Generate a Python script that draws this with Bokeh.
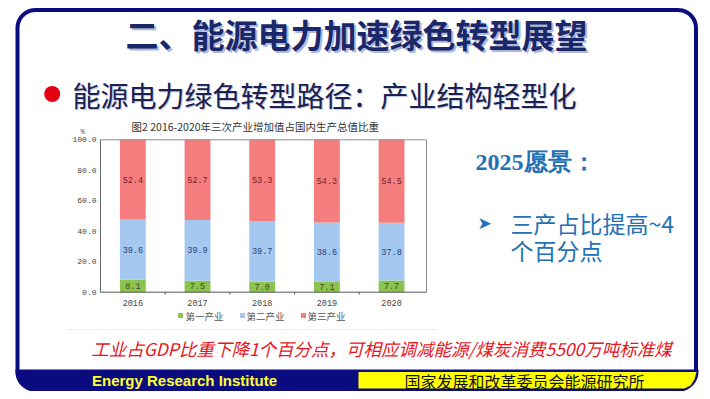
import numpy as np
from bokeh.plotting import figure
from bokeh.models import Range1d, ColumnDataSource, Label
from bokeh.core.properties import value
from bokeh.embed import file_html
from bokeh.resources import INLINE

# ---------------- data ----------------
years = ["2016", "2017", "2018", "2019", "2020"]
primary = [8.1, 7.5, 7.0, 7.1, 7.7]        # 第一产业
secondary = [39.6, 39.9, 39.7, 38.6, 37.8]  # 第二产业
tertiary = [52.4, 52.7, 53.3, 54.3, 54.5]   # 第三产业
series_names = ["第一产业", "第二产业", "第三产业"]
y_ticks = [0, 20, 40, 60, 80, 100]
y_tick_labels = ["0.0", "20.0", "40.0", "60.0", "80.0", "100.0"]

# ---------------- styles ----------------
bar_colors = ["#8cc34f", "#a4c8f0", "#f57d7d"]
bar_label_colors = ["#3d4a1c", "#2b3f78", "#6b2226"]
NAVY = "#0b0b80"
TITLE_C = "#1a2768"
BLUE_T = "#2271b6"
CJK = "Noto Sans CJK SC"
MONO = "Liberation Mono"

# figure covers image px 0..702 x 0..391
FX0, FX1, FY0, FY1 = 0, 702, 0, 391
p = figure(width=FX1 - FX0, height=FY1 - FY0, x_range=Range1d(FX0, FX1), y_range=Range1d(FY1, FY0),
           output_backend="svg", toolbar_location=None,
           x_axis_location=None, y_axis_location=None, min_border=0)
p.grid.visible = False
p.outline_line_color = None
p.background_fill_color = "white"
p.border_fill_color = "white"

# chart sub-area: map chart data into a pixel box through extra ranges
CH_L, CH_R, CH_T, CH_B = 100, 426, 139.3, 291.7
X_LO, X_HI, Y_LO, Y_HI = -0.5, 4.54, 0.0, 100.0
kx = (X_HI - X_LO) / (CH_R - CH_L)
ky = (Y_HI - Y_LO) / (CH_B - CH_T)
p.extra_x_ranges = {"cx": Range1d(X_LO - (CH_L - FX0) * kx, X_HI + (FX1 - CH_R) * kx)}
p.extra_y_ranges = {"cy": Range1d(Y_LO - (FY1 - CH_B) * ky, Y_HI + (CH_T - FY0) * ky)}
C = dict(x_range_name="cx", y_range_name="cy")


def rounded(x0, y0, x1, y1, r, n=14):
    xs, ys = [], []
    for cx, cy, a0, a1 in [(x0 + r, y0 + r, np.pi, 1.5 * np.pi),
                           (x1 - r, y0 + r, 1.5 * np.pi, 2 * np.pi),
                           (x1 - r, y1 - r, 0, 0.5 * np.pi),
                           (x0 + r, y1 - r, 0.5 * np.pi, np.pi)]:
        t = np.linspace(a0, a1, n)
        xs += list(cx + r * np.cos(t))
        ys += list(cy + r * np.sin(t))
    return xs, ys


# slide frame
fx, fy = rounded(17, 9.5, 695.5, 389, 18)
p.patch(fx, fy, fill_color="white", line_color=NAVY, line_width=4)

# bottom bar (navy)
t1 = np.linspace(np.pi, 0.5 * np.pi, 12)
t2 = np.linspace(0.5 * np.pi, 0.0, 12)
bx = [15] + list(35 + 20 * np.cos(t1)) + list(678 + 20 * np.cos(t2)) + [698]
by = [369] + list(371 + 20 * np.sin(t1)) + list(371 + 20 * np.sin(t2)) + [369]
p.patch(bx, by, fill_color=NAVY, line_color=None)
# yellow panel
p.patch([358, 696, 694, 690, 684, 358], [371.5, 371.5, 379, 385, 388, 388],
        fill_color="#ffff00", line_color=None)

# faint edge of the embedded chart picture
p.line([67, 437], [329, 329], line_color="#ececec", line_width=1)

# ---------------- titles ----------------
p.add_layout(Label(x=358, y=35, text="二、能源电力加速绿色转型展望", text_font=CJK,
                   text_font_style="bold", text_font_size="33px", text_color="#aeb8d8",
                   text_align="center", text_baseline="middle"))
p.add_layout(Label(x=356, y=33, text="二、能源电力加速绿色转型展望", text_font=CJK,
                   text_font_style="bold", text_font_size="33px", text_color=TITLE_C,
                   text_align="center", text_baseline="middle"))

p.scatter([51.7], [93.5], size=16, color="#e60012", line_color=None)
p.add_layout(Label(x=73, y=95.5, text="能源电力绿色转型路径：产业结构轻型化", text_font=CJK,
                   text_font_size="28px", text_color="#c3c8dc",
                   text_align="left", text_baseline="middle"))
p.add_layout(Label(x=72, y=94, text="能源电力绿色转型路径：产业结构轻型化", text_font=CJK,
                   text_font_size="28px", text_color="#1b2150",
                   text_align="left", text_baseline="middle"))

# ---------------- chart ----------------
idx = list(range(len(years)))
src = ColumnDataSource(dict(x=idx, primary=primary, secondary=secondary, tertiary=tertiary))
p.vbar_stack(["primary", "secondary", "tertiary"], x="x", width=0.4, color=bar_colors,
             line_color=None, source=src, **C)

bottom = np.zeros(len(years))
for k, vals in enumerate([primary, secondary, tertiary]):
    v = np.array(vals)
    p.text(x=idx, y=list(bottom + v / 2), text=[f"{a:.1f}" for a in vals],
           text_font=value(MONO), text_font_size="8.5px", text_color=bar_label_colors[k],
           text_align="center", text_baseline="middle", **C)
    bottom = bottom + v

# plot box / axes
p.line([X_LO, X_LO, X_HI, X_HI], [Y_LO, Y_HI, Y_HI, Y_LO], line_color="#8a8a8a", line_width=1, **C)
p.line([X_LO, X_HI], [Y_LO, Y_LO], line_color="#555555", line_width=1, **C)
p.line([X_LO, X_LO], [Y_LO, Y_HI], line_color="#666666", line_width=1, **C)
p.segment(x0=[i + 0.5 for i in idx[:-1]], y0=[0] * 4, x1=[i + 0.5 for i in idx[:-1]],
          y1=[-1.6] * 4, line_color="#555555", **C)

p.text(x=[X_LO] * len(y_ticks), y=y_ticks, text=y_tick_labels, x_offset=-4,
       text_font=value(MONO), text_font_size="8px", text_color="#444444",
       text_align="right", text_baseline="middle", **C)
p.text(x=idx, y=[0] * len(idx), text=years, y_offset=11,
       text_font=value(MONO), text_font_size="8.5px", text_color="#444444",
       text_align="center", text_baseline="middle", **C)

p.add_layout(Label(x=256, y=126, text="图2  2016-2020年三次产业增加值占国内生产总值比重",
                   text_font=CJK, text_font_size="10.5px", text_color="#333333",
                   text_align="center", text_baseline="middle"))
p.add_layout(Label(x=82, y=131, text="%", text_font=MONO, text_font_size="7px",
                   text_color="#555555", text_align="center", text_baseline="middle"))

# legend
p.rect(x=[180, 242, 303], y=[315, 315, 315], width=5, height=5, color=bar_colors, line_color=None)
p.text(x=[185, 246, 307], y=[315, 315, 315], text=series_names, text_font=value(CJK),
       text_font_size="9.5px", text_color="#555555", text_align="left", text_baseline="middle")

# ---------------- right notes ----------------
p.add_layout(Label(x=475, y=161, text="2025愿景：", text_font="Liberation Serif",
                   text_font_style="bold", text_font_size="24px", text_color=BLUE_T,
                   text_align="left", text_baseline="middle"))
p.add_layout(Label(x=477, y=222, text="➤", text_font="DejaVu Sans", text_font_size="17px",
                   text_color=BLUE_T, text_align="left", text_baseline="middle"))
p.add_layout(Label(x=510, y=222, text="三产占比提高~4", text_font=CJK, text_font_size="23px",
                   text_color=BLUE_T, text_align="left", text_baseline="middle"))
p.add_layout(Label(x=510, y=249, text="个百分点", text_font=CJK, text_font_size="23px",
                   text_color=BLUE_T, text_align="left", text_baseline="middle"))

# ---------------- bottom note & footer ----------------
p.add_layout(Label(x=381, y=348, text="工业占GDP比重下降1个百分点，可相应调减能源/煤炭消费5500万吨标准煤",
                   text_font=CJK, text_font_style="italic", text_font_size="17.5px",
                   text_color="#e8141b", text_align="center", text_baseline="middle"))
p.add_layout(Label(x=184, y=380, text="Energy Research Institute", text_font="Liberation Sans",
                   text_font_style="bold", text_font_size="15px", text_color="#ffff33",
                   text_align="center", text_baseline="middle"))
p.add_layout(Label(x=524, y=380, text="国家发展和改革委员会能源研究所", text_font=CJK,
                   text_font_size="16px", text_color="#111111",
                   text_align="center", text_baseline="middle"))

open("out.html", "w").write(file_html(p, INLINE))
